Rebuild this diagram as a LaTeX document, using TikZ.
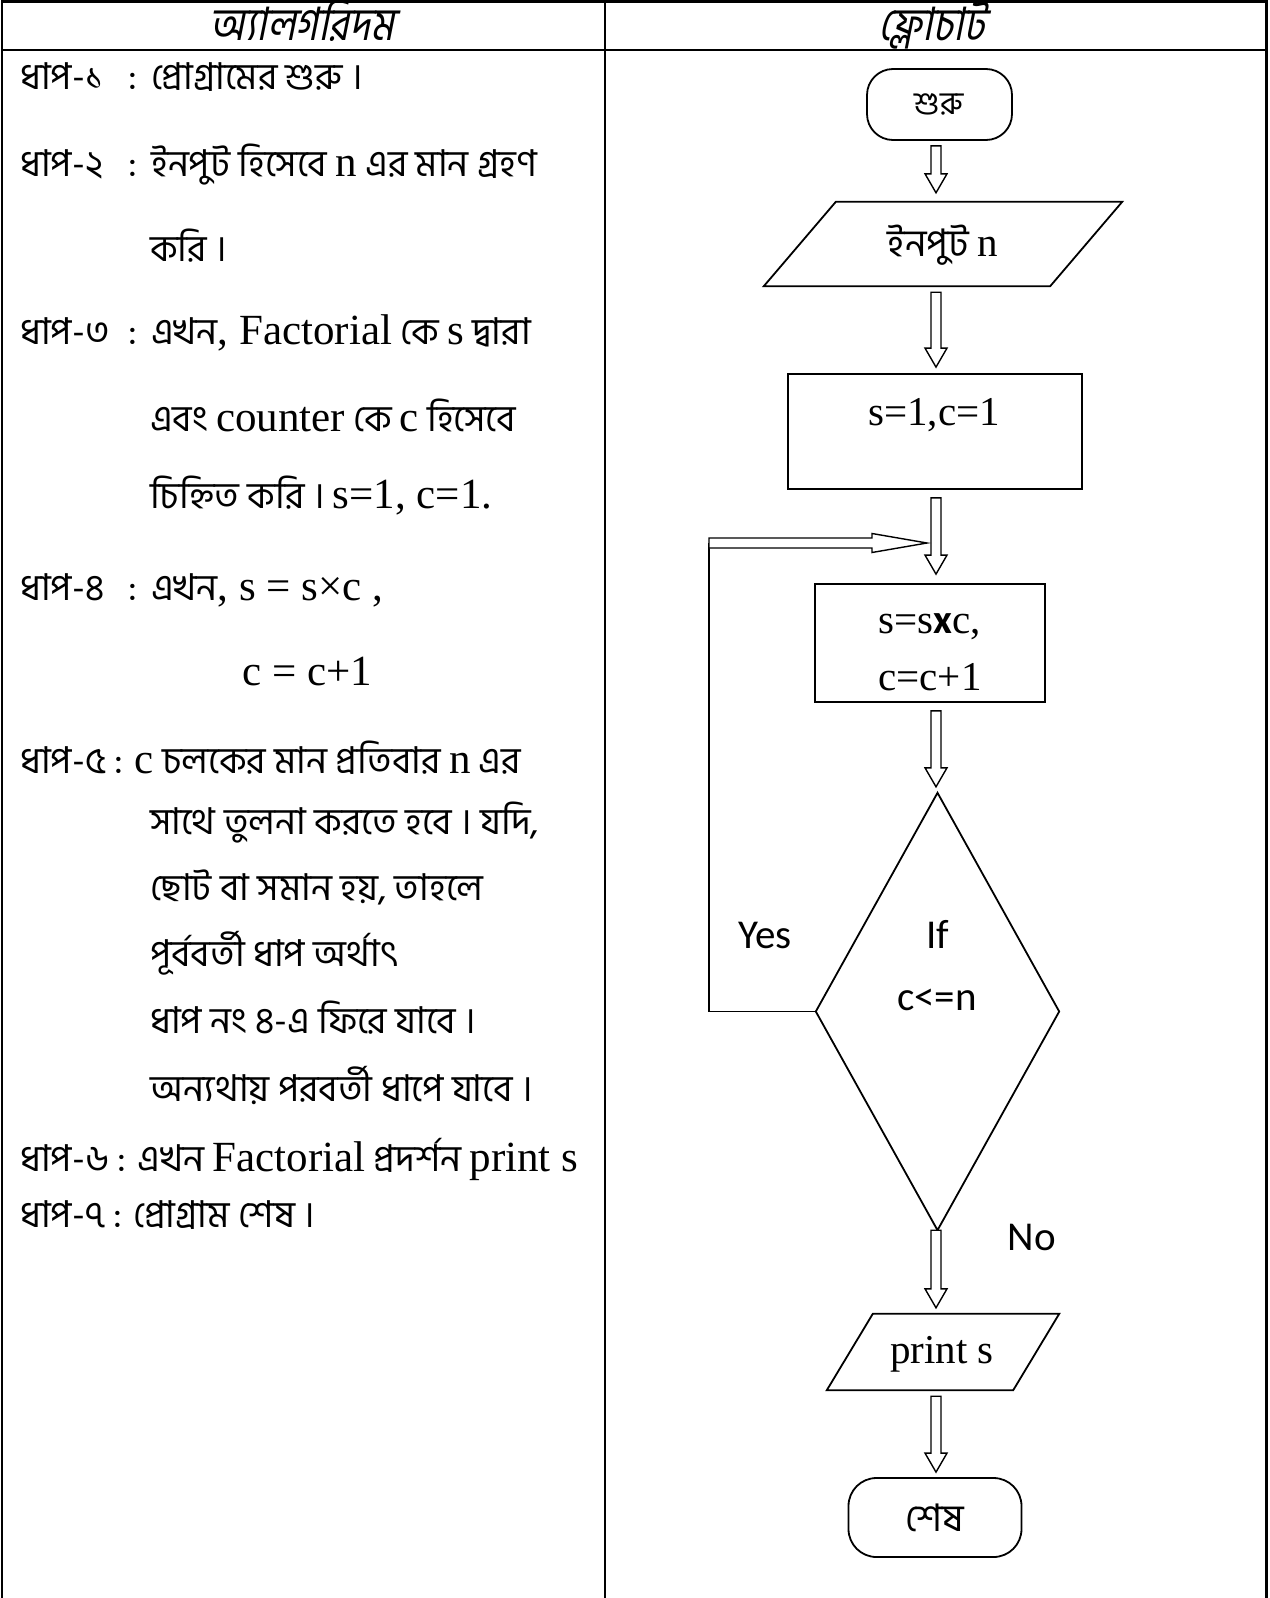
\documentclass[tikz,border=0pt]{standalone}
\usepackage{fontspec}
\setmainfont{Liberation Serif}
\newfontfamily\bn[Script=Bengali]{Hind Siliguri}
\newfontfamily\bnh[Script=Bengali,FakeSlant=0.2,FakeStretch=0.86]{Hind Siliguri}
\newfontfamily\calfont{Carlito}
\usetikzlibrary{calc}
\newcommand\tm[1]{{\rmfamily\fontsize{43}{50}\selectfont #1}}
\newcommand\tmf[1]{{\rmfamily\fontsize{41}{48}\selectfont #1}}
\newcommand\vblock[2]{\draw[blk] let \p1=#1, \p2=#2 in (\x1-5pt,\y1) -- (\x1+5pt,\y1) -- (\x1+5pt,\y2+19pt) -- (\x1+11pt,\y2+19pt) -- (\x1,\y2) -- (\x1-11pt,\y2+19pt) -- (\x1-5pt,\y2+19pt) -- cycle;}
\newcommand\hblock[2]{\draw[blk] let \p1=#1, \p2=#2 in (\x1,\y1+5pt) -- (\x2-55pt,\y1+5pt) -- (\x2-55pt,\y1+9.5pt) -- (\x2,\y1) -- (\x2-55pt,\y1-9.5pt) -- (\x2-55pt,\y1-5pt) -- (\x1,\y1-5pt) -- cycle;}
\begin{document}
\begin{tikzpicture}[x=1pt,y=-1pt,
  tbl/.style={line width=2.6pt},
  line/.style={line width=1.8pt},
  blk/.style={line width=1.4pt, fill=white},
  txt/.style={anchor=base west, inner sep=0pt, font=\bn\fontsize{37}{44}\selectfont},
  hdr/.style={inner sep=0pt, anchor=base, font=\bnh\fontsize{46}{52}\selectfont},
  shp/.style={line width=1.8pt},
  fbn/.style={inner sep=0pt, anchor=base, font=\bn\fontsize{38}{44}\selectfont},
  flt/.style={inner sep=0pt, anchor=base, font=\rmfamily\fontsize{41}{48}\selectfont},
  fcal/.style={inner sep=0pt, anchor=base, font=\calfont\fontsize{41}{48}\selectfont},
  ghost/.style={inner sep=0pt, draw=none}]
\useasboundingbox (0,0) rectangle (1269,1598);
% table
\draw[tbl] (2,1598) -- (2,1.3) -- (1266.5,1.3) -- (1266.5,1598);
\draw[tbl] (2,50) -- (1266.5,50);
\draw[tbl] (605,1.3) -- (605,1598);
\node[hdr] (h1) at (302,40) {অ্যালগরিদম};
\node[hdr] (h2) at (932,40) {ফ্লোচার্ট};
% algorithm text
\node[txt] (s1) at (20,89) {ধাপ-১};
\node[txt] (c1) at (128,89) {:};
\node[txt] (l1) at (151,89) {প্রোগ্রামের শুরু ।};
\node[txt] (s2) at (20,176) {ধাপ-২};
\node[txt] (c2) at (128,176) {:};
\node[txt] (l2) at (151,176) {ইনপুট হিসেবে \tm{n} এর মান গ্রহণ};
\node[txt] (l3) at (150,261) {করি ।};
\node[txt] (s3) at (20,344) {ধাপ-৩};
\node[txt] (c3) at (128,344) {:};
\node[txt] (l4) at (151,344) {এখন\tm{, Factorial} কে \tm{s} দ্বারা};
\node[txt] (l5) at (150,431) {এবং \tm{counter} কে \tm{c} হিসেবে};
\node[txt] (l6) at (150,508) {চিহ্নিত করি । \tm{s=1, c=1.}};
\node[txt] (s4) at (20,600) {ধাপ-৪};
\node[txt] (c4) at (128,600) {:};
\node[txt] (l7) at (151,600) {এখন\tm{, s = s×c ,}};
\node[txt] (l8) at (242,685) {\tm{c = c+1}};
\node[txt] (l9) at (20,773) {ধাপ-৫ : \tm{c} চলকের মান প্রতিবার \tm{n} এর};
\node[txt] (l10) at (150,834) {সাথে তুলনা করতে হবে । যদি,};
\node[txt] (l11) at (150,900) {ছোট বা সমান হয়, তাহলে};
\node[txt] (l12) at (150,966) {পূর্ববর্তী ধাপ অর্থাৎ};
\node[txt] (l13) at (150,1033) {ধাপ নং ৪-এ ফিরে যাবে ।};
\node[txt] (l14) at (150,1101) {অন্যথায় পরবর্তী ধাপে যাবে ।};
\node[txt] (l15) at (20,1171) {ধাপ-৬ : এখন \tm{Factorial} প্রদর্শন \tm{print s}};
\node[txt] (l16) at (20,1227) {ধাপ-৭ : প্রোগ্রাম শেষ ।};
% flowchart
\coordinate (col) at (936,0);
\node[shp, draw, rounded corners=26pt, minimum width=145, minimum height=71, inner sep=0pt, font=\bn\fontsize{32}{38}\selectfont] (start) at (939.5,104.5) {শুরু};
\node[ghost, minimum width=358, minimum height=84] (inp) at (943,244) {};
\draw[shp] ($(inp.north west)+(72,0)$) -- (inp.north east) -- ($(inp.south east)+(-72,0)$) -- (inp.south west) -- cycle;
\node[fbn] (inpt) at (943,256) {ইনপুট \tmf{n}};
\node[shp, draw, minimum width=294, minimum height=115, inner sep=0pt] (r1) at (935,431.5) {};
\node[flt] (r1t) at (934,425) {s=1,c=1};
\node[shp, draw, minimum width=230, minimum height=118, inner sep=0pt] (r2) at (930,643) {};
\node[flt] (r2a) at (930,633) {s=s{\calfont\bfseries x}c,};
\node[flt] (r2b) at (930,690) {c=c+1};
\node[ghost, minimum width=243, minimum height=437] (dec) at (937.5,1011.5) {};
\draw[shp] (dec.north) -- (dec.east) -- (dec.south) -- (dec.west) -- cycle;
\node[fcal] (if1) at (938,948) {If};
\node[fcal] (if2) at (937,1010) {c<=n};
\node[fcal] (yes) at (765,948) {Yes};
\node[fcal] (no) at (1032,1250) {No};
\node[ghost, minimum width=232, minimum height=76] (prt) at (943,1352) {};
\draw[shp] ($(prt.north west)+(46,0)$) -- (prt.north east) -- ($(prt.south east)+(-46,0)$) -- (prt.south west) -- cycle;
\node[flt] (prtt) at (942,1363) {print s};
\node[shp, draw, rounded corners=28pt, minimum width=173, minimum height=79, inner sep=0pt, font=\bn\fontsize{38}{44}\selectfont] (stop) at (935,1517.5) {শেষ};
% arrows
\vblock{($(col |- start.south)+(0,5)$)}{($(col |- inp.north)+(0,-9)$)}
\vblock{($(col |- inp.south)+(0,6)$)}{($(col |- r1.north)+(0,-6)$)}
\vblock{($(col |- r1.south)+(0,8)$)}{($(col |- r2.north)+(0,-9)$)}
\vblock{($(col |- r2.south)+(0,8)$)}{($(col |- dec.north)+(0,-6)$)}
\vblock{(col |- dec.south)}{($(col |- prt.north)+(0,-6)$)}
\vblock{($(col |- prt.south)+(0,6)$)}{($(col |- stop.north)+(0,-5)$)}
% loop back
\coordinate (lc) at (709,543);
\coordinate (lt) at (927,543);
\draw[line] (dec.west) -- (dec.west -| lc) -- (lc);
\hblock{(lc)}{(lt)}
\end{tikzpicture}
\end{document}
